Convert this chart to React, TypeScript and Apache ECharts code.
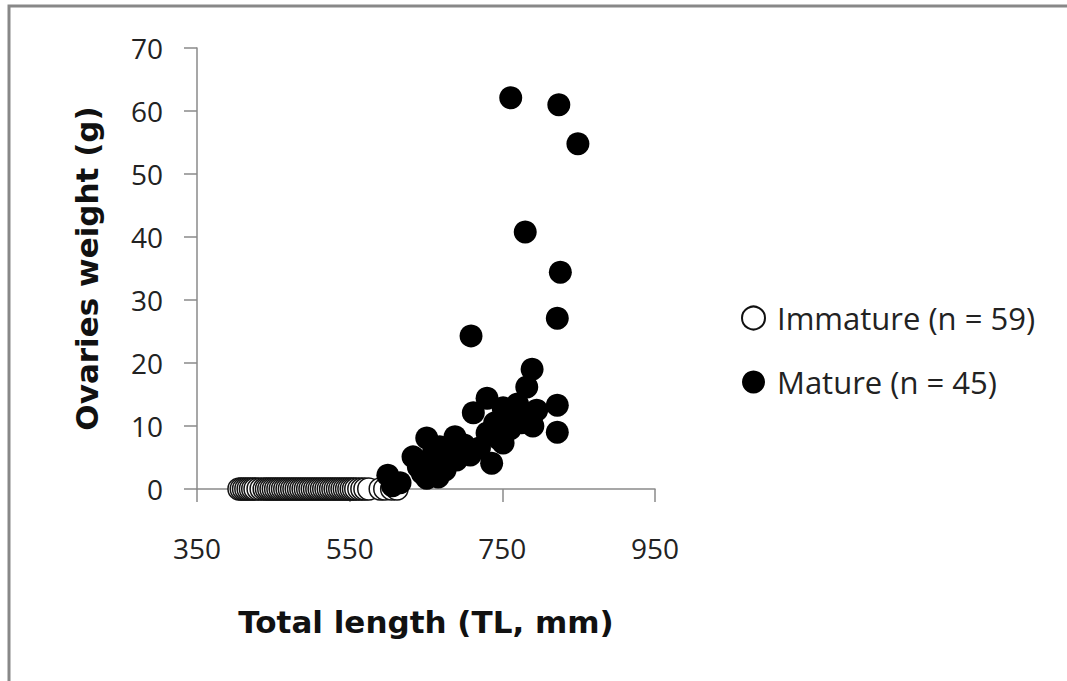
import React, { useEffect, useRef } from "react";
import * as echarts from "echarts";

const xTicks = { min: 350, max: 950, interval: 200 };
const yTicks = { min: 0, max: 70, interval: 10 };

const immatureLength = [
  405, 408, 411, 414, 417, 420, 423, 426, 430, 434, 438, 441, 444, 447, 450, 453, 456, 459, 462, 465,
  468, 471, 474, 477, 480, 483, 486, 489, 492, 495, 498, 501, 504, 507, 510, 513, 516, 519, 522, 525,
  528, 531, 534, 537, 540, 543, 546, 549, 552, 555, 558, 562, 566, 570, 575, 590, 596, 605, 612,
];
const immatureWeight = [
  0, 0, 0, 0, 0, 0, 0, 0, 0, 0, 0, 0, 0, 0, 0, 0, 0, 0, 0, 0,
  0, 0, 0, 0, 0, 0, 0, 0, 0, 0, 0, 0, 0, 0, 0, 0, 0, 0, 0, 0,
  0, 0, 0, 0, 0, 0, 0, 0, 0, 0, 0, 0, 0, 0, 0, 0, 0, 0, 0,
];

const matureLength = [
  761, 824, 849, 780, 826, 822, 709, 789, 782, 822, 822, 730, 712, 751, 736, 751, 708, 730, 688, 651,
  633, 668, 690, 651, 666, 600, 616, 765, 775, 785, 795, 770, 790, 760, 640, 655, 675, 660, 700, 720,
  745, 606, 645, 680, 740,
];
const matureWeight = [
  62.1, 61.0, 54.8, 40.8, 34.4, 27.1, 24.3, 19.0, 16.2, 13.3, 9.0, 14.4, 12.1, 12.9, 4.1, 7.3, 5.4, 8.9, 8.3, 8.1,
  5.1, 6.7, 4.6, 1.7, 1.9, 2.2, 1.0, 11.5, 10.5, 12.0, 12.5, 13.5, 10.0, 9.5, 3.5, 4.5, 3.0, 6.0, 7.0, 6.5,
  8.0, 0.5, 2.5, 5.5, 10.5,
];

const seriesNames = ["Immature (n = 59)", "Mature (n = 45)"];
const xTitle = "Total length (TL, mm)";
const yTitle = "Ovaries weight (g)";

export default function App() {
  const ref = useRef<HTMLDivElement>(null);
  useEffect(() => {
    if (!ref.current) return;
    const chart = echarts.init(ref.current, null, { renderer: "svg" });
    const axisColor = "#8a8a8a";
    const font = "'Open Sans', sans-serif";
    const titleFont = "'DejaVu Sans', Verdana, sans-serif";
    chart.setOption({
      animation: false,
      backgroundColor: "#ffffff",
      grid: { left: 197, right: 412, top: 48, bottom: 192, containLabel: false },
      graphic: [
        {
          type: "rect",
          shape: { x: 9, y: 6, width: 1100, height: 720 },
          style: { fill: "none", stroke: "#888888", lineWidth: 3 },
          silent: true,
        },
      ],
      legend: {
        orient: "vertical",
        left: 736,
        top: 295,
        itemWidth: 23,
        itemHeight: 23,
        itemGap: 28,
        icon: "circle",
        textStyle: {
          fontFamily: font,
          fontSize: 31,
          color: "#222222",
          lineHeight: 36,
          padding: [0, 0, 0, 7],
        },
        data: seriesNames,
      },
      xAxis: {
        type: "value",
        min: xTicks.min,
        max: xTicks.max,
        interval: xTicks.interval,
        name: xTitle,
        nameLocation: "middle",
        nameGap: 117,
        nameTextStyle: { fontFamily: titleFont, fontSize: 31, fontWeight: "bold", color: "#111111" },
        axisLine: { show: true, onZero: false, lineStyle: { color: axisColor, width: 1.5 } },
        axisTick: { show: true, inside: false, length: 13, lineStyle: { color: axisColor, width: 1.5 } },
        axisLabel: { fontFamily: font, fontSize: 28, color: "#222222", margin: 45 },
        splitLine: { show: false },
      },
      yAxis: {
        type: "value",
        min: yTicks.min,
        max: yTicks.max,
        interval: yTicks.interval,
        name: yTitle,
        nameLocation: "middle",
        nameGap: 95,
        nameTextStyle: { fontFamily: titleFont, fontSize: 31, fontWeight: "bold", color: "#111111" },
        axisLine: { show: true, onZero: false, lineStyle: { color: axisColor, width: 1.5 } },
        axisTick: { show: true, inside: false, length: 13, lineStyle: { color: axisColor, width: 1.5 } },
        axisLabel: { fontFamily: font, fontSize: 28, color: "#222222", margin: 34 },
        splitLine: { show: false },
      },
      series: [
        {
          name: seriesNames[0],
          type: "scatter",
          symbol: "circle",
          symbolSize: 22,
          itemStyle: { color: "#ffffff", borderColor: "#111111", borderWidth: 1.5, opacity: 1 },
          data: immatureLength.map((x, i) => [x, immatureWeight[i]]),
          z: 2,
        },
        {
          name: seriesNames[1],
          type: "scatter",
          symbol: "circle",
          symbolSize: 23,
          itemStyle: { color: "#000000", borderColor: "#000000", borderWidth: 0, opacity: 1 },
          data: matureLength.map((x, i) => [x, matureWeight[i]]),
          z: 3,
        },
      ],
    });
    return () => chart.dispose();
  }, []);
  return (
    <div
      ref={ref}
      style={{ position: "fixed", left: 0, top: 0, width: 1067, height: 681, background: "#fff" }}
    />
  );
}
